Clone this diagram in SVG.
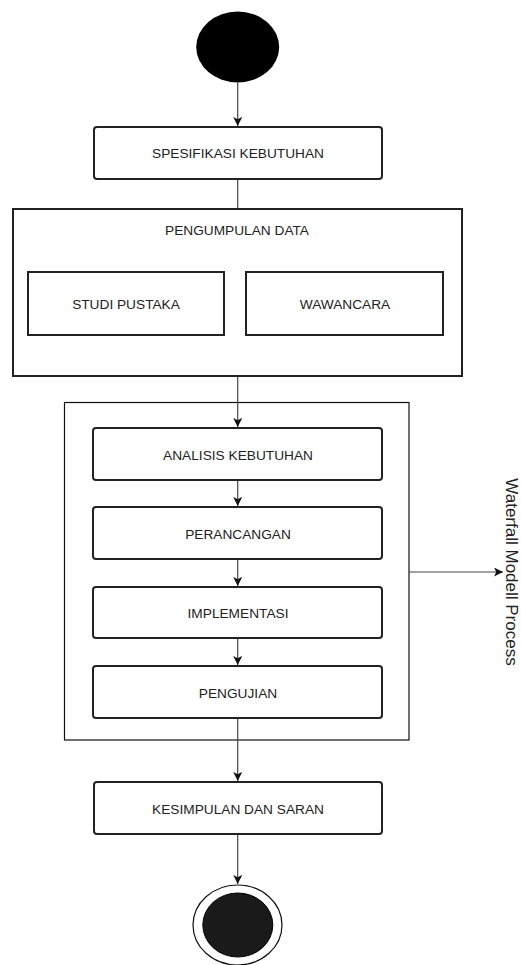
<svg xmlns="http://www.w3.org/2000/svg" width="521" height="965" viewBox="0 0 521 965">
<style>
.box{fill:#fff;stroke:#222;stroke-width:2}
.cont{fill:#fff;stroke:#111;stroke-width:1.2}
.lbl{font-family:"Liberation Sans",Arial,sans-serif;font-size:13.7px;fill:#222;text-anchor:middle;dominant-baseline:central}
.edge{fill:none;stroke:#444;stroke-width:1.2}
</style>
<defs>
<marker id="ah" viewBox="0 0 10 10" refX="10" refY="5" markerWidth="9" markerHeight="9" markerUnits="userSpaceOnUse" orient="auto">
<path d="M0,0 L10,5 L0,10 L2.5,5 Z" fill="#111"/>
</marker>
</defs>
<rect width="521" height="965" fill="#fff"/>
<g id="start"><ellipse cx="237.7" cy="47" rx="41.5" ry="35.5" fill="#000"/></g>
<g id="spesifikasi"><rect class="box" x="94" y="127" width="288" height="52" rx="3"/><text class="lbl" x="238" y="153">SPESIFIKASI KEBUTUHAN</text></g>
<g id="pengumpulan"><rect class="box" x="13" y="209" width="449" height="167"/><text class="lbl" x="237" y="230">PENGUMPULAN DATA</text></g>
<g id="studi"><rect class="box" x="28" y="272" width="196" height="63"/><text class="lbl" x="126" y="304">STUDI PUSTAKA</text></g>
<g id="wawancara"><rect class="box" x="246" y="272" width="197" height="63"/><text class="lbl" x="345" y="304">WAWANCARA</text></g>
<g id="waterfall"><rect class="cont" x="64.5" y="402.5" width="344.5" height="337.5"/><text x="511" y="572" transform="rotate(90 511 572)" font-family="'Liberation Sans',Arial,sans-serif" font-size="17" fill="#222" text-anchor="middle" dominant-baseline="central">Waterfall Modell Process</text></g>
<g id="analisis"><rect class="box" x="93" y="428" width="289" height="52" rx="3"/><text class="lbl" x="238" y="455">ANALISIS KEBUTUHAN</text></g>
<g id="perancangan"><rect class="box" x="93" y="507" width="289" height="52" rx="3"/><text class="lbl" x="238" y="534">PERANCANGAN</text></g>
<g id="implementasi"><rect class="box" x="93" y="587" width="289" height="51" rx="3"/><text class="lbl" x="238" y="613">IMPLEMENTASI</text></g>
<g id="pengujian"><rect class="box" x="93" y="666" width="289" height="52" rx="3"/><text class="lbl" x="238" y="693">PENGUJIAN</text></g>
<g id="kesimpulan"><rect class="box" x="94" y="782" width="288" height="52" rx="3"/><text class="lbl" x="238" y="809">KESIMPULAN DAN SARAN</text></g>
<g id="end"><ellipse cx="237.5" cy="925" rx="44.5" ry="40" fill="#fff" stroke="#111" stroke-width="1.2"/><ellipse cx="237.8" cy="925" rx="35" ry="32" fill="#1a1a1a" stroke="#000" stroke-width="1"/></g>
<g id="connectors">
<line class="edge" x1="237.7" y1="82.5" x2="237.7" y2="126" marker-end="url(#ah)"/>
<line class="edge" x1="237.7" y1="180" x2="237.7" y2="208"/>
<line class="edge" x1="237.7" y1="377" x2="237.7" y2="427" marker-end="url(#ah)"/>
<line class="edge" x1="237.7" y1="481" x2="237.7" y2="506" marker-end="url(#ah)"/>
<line class="edge" x1="237.7" y1="560" x2="237.7" y2="586" marker-end="url(#ah)"/>
<line class="edge" x1="237.7" y1="639" x2="237.7" y2="665" marker-end="url(#ah)"/>
<line class="edge" x1="237.7" y1="719" x2="237.7" y2="781" marker-end="url(#ah)"/>
<line class="edge" x1="237.7" y1="835" x2="237.7" y2="884" marker-end="url(#ah)"/>
<line class="edge" x1="409" y1="572" x2="503" y2="572" marker-end="url(#ah)"/>
</g>
</svg>
